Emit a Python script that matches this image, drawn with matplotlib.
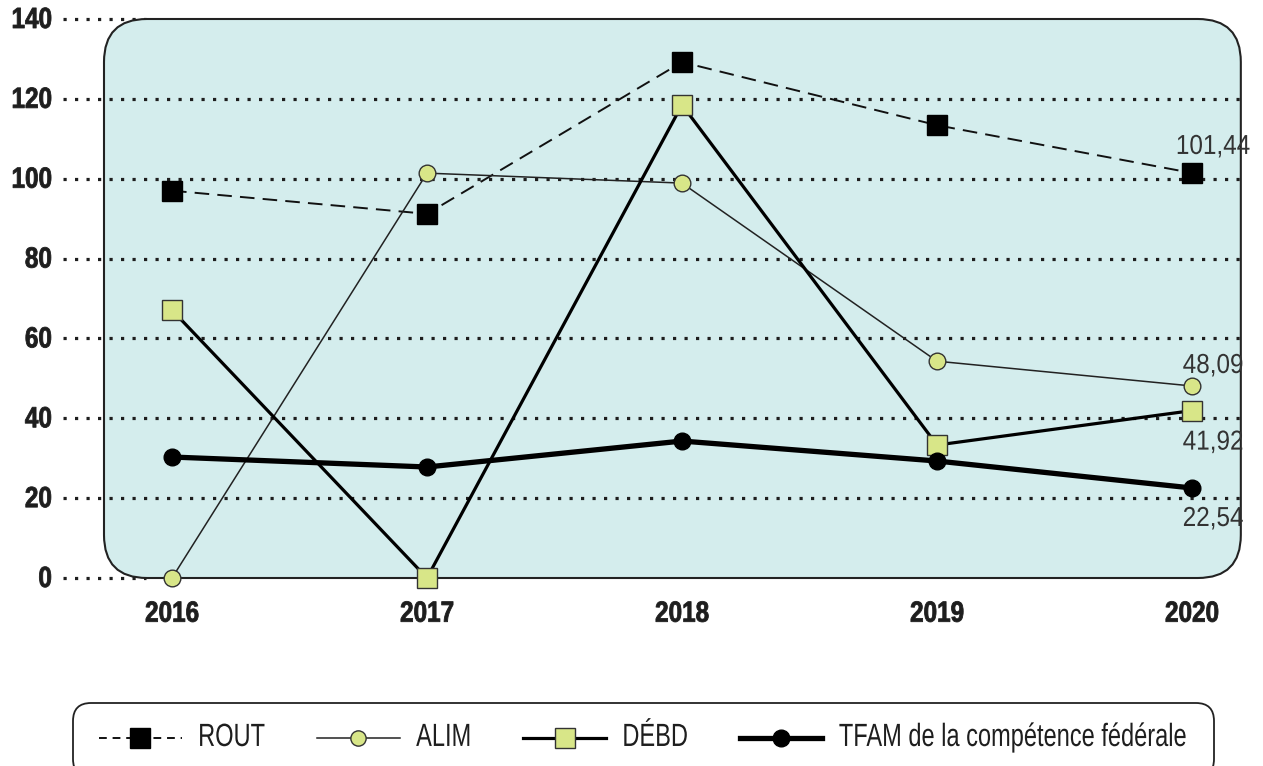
import matplotlib
matplotlib.use("Agg")
import matplotlib.pyplot as plt
from matplotlib.patches import FancyBboxPatch
from matplotlib.lines import Line2D
from matplotlib.patheffects import AbstractPathEffect
from matplotlib.transforms import Affine2D

years = ["2016", "2017", "2018", "2019", "2020"]
rout = [97.0, 91.2, 129.2, 113.4, 101.44]
alim = [0.0, 101.4, 98.9, 54.3, 48.09]
debd = [67.1, 0.0, 118.5, 33.3, 41.92]
tfam = [30.3, 27.8, 34.3, 29.3, 22.54]
yticks = [0, 20, 40, 60, 80, 100, 120, 140]
labels_end = ["101,44", "48,09", "41,92", "22,54"]
legend_names = ["ROUT", "ALIM", "DÉBD", "TFAM de la compétence fédérale"]

plt.rcParams['font.family'] = ['Liberation Sans', 'DejaVu Sans']


class Stretch(AbstractPathEffect):
    """Stretch glyphs vertically (from the baseline) to imitate a condensed face."""
    def __init__(self, sy, lw=0.0):
        super().__init__()
        self.sy = sy
        self.lw = lw

    def draw_path(self, renderer, gc, tpath, affine, rgbFace=None):
        tr = Affine2D().scale(1, self.sy) + affine
        if self.lw > 0:
            gc0 = renderer.new_gc()
            gc0.copy_properties(gc)
            gc0.set_linewidth(self.lw)
            gc0.set_foreground(rgbFace)
            renderer.draw_path(gc0, tpath, tr, rgbFace)
            gc0.restore()
        else:
            renderer.draw_path(gc, tpath, tr, rgbFace)


W, H = 1263, 766
fig = plt.figure(figsize=(W / 100, H / 100), dpi=100)
L, R, T, B = 63, 1242, 19, 578
ax = fig.add_axes([L / W, 1 - B / H, (R - L) / W, (B - T) / H])
x = list(range(len(years)))
ppu = 255.0
ax.set_xlim((L - 172) / ppu, (R - 172) / ppu)
ax.set_ylim(0, 140)
for s in ax.spines.values():
    s.set_visible(False)

green = "#d8e688"
bg = "#d4eded"
ink = "#1e1e1e"

# rounded panel
axw, axh = R - L, B - T
bx0 = (104 - L) / axw
rad = 43 / axw
box = FancyBboxPatch((bx0, 0), 1 - bx0 - 0.001, 1.0,
                     boxstyle=f"round,pad=0,rounding_size={rad}",
                     mutation_aspect=axw / axh,
                     transform=ax.transAxes, facecolor=bg, edgecolor="#222222",
                     linewidth=1.5, zorder=1, clip_on=False)
ax.add_patch(box)

for yv in yticks:
    if yv in (0, 140):
        ax.axhline(yv, xmin=0, xmax=(146 - L) / axw, color=ink, linestyle=(0, (1, 2.6)),
                   linewidth=2.3, zorder=0.5, clip_on=False)
    else:
        ax.axhline(yv, color=ink, linestyle=(0, (1, 2.6)), linewidth=2.3,
                   zorder=2, clip_on=False)

ax.plot(x, rout, color="#111111", linestyle=(0, (7.5, 4.2)), linewidth=1.4,
        marker="s", markersize=14, markerfacecolor="black", markeredgecolor="black",
        zorder=5, clip_on=False)
ax.plot(x, alim, color="#222222", linewidth=1.1,
        marker="o", markersize=12, markerfacecolor=green, markeredgecolor="#333333",
        markeredgewidth=1, zorder=6, clip_on=False)
ax.plot(x, debd, color="black", linewidth=2.3,
        marker="s", markersize=14.5, markerfacecolor=green, markeredgecolor="#333333",
        markeredgewidth=1, zorder=7, clip_on=False)
ax.plot(x, tfam, color="black", linewidth=3.8,
        marker="o", markersize=12, markerfacecolor="black", markeredgecolor="black",
        zorder=8, clip_on=False)

tick_fx = [Stretch(1.2, lw=0.6)]
ax.set_yticks(yticks)
ax.set_yticklabels([str(v) for v in yticks], fontsize=17.5, fontweight="bold", color=ink)
ax.set_xticks(x)
ax.set_xticklabels(years, fontsize=17.5, fontweight="bold", color=ink)
ax.tick_params(axis="y", length=0, pad=8)
ax.tick_params(axis="x", length=0, pad=18.5)
for t in ax.get_xticklabels() + ax.get_yticklabels():
    t.set_path_effects(tick_fx)

tc = "#333333"
lab_fx = [Stretch(1.13)]
offsets = [19, 13, -39, -38]
series_end = [rout[4], alim[4], debd[4], tfam[4]]
for txt, yv, dy in zip(labels_end, series_end, offsets):
    ax.annotate(txt, (x[4], yv), xytext=(21, dy), textcoords="offset pixels",
                ha="center", va="baseline", fontsize=17.5, color=tc,
                path_effects=lab_fx, zorder=10)

handles = [
    Line2D([], [], color="#111111", linestyle=(0, (4, 3)), linewidth=1.4, marker="s",
           markersize=14, markerfacecolor="black", markeredgecolor="black"),
    Line2D([], [], color="#222222", linewidth=1.1, marker="o", markersize=11,
           markerfacecolor=green, markeredgecolor="#333333"),
    Line2D([], [], color="black", linewidth=2.3, marker="s", markersize=15,
           markerfacecolor=green, markeredgecolor="#333333"),
    Line2D([], [], color="black", linewidth=3.8, marker="o", markersize=12,
           markerfacecolor="black", markeredgecolor="black"),
]
leg = fig.legend(handles, legend_names, loc="upper left",
                 bbox_to_anchor=(73 / W, 1 - 703 / H), borderaxespad=0,
                 ncol=4, frameon=True, fontsize=17, handlelength=3.5, columnspacing=2.2,
                 handletextpad=0.7, borderpad=1.1, fancybox=True)
fr = leg.get_frame()
fr.set_edgecolor("#222222")
fr.set_linewidth(1.3)
fr.set_facecolor("white")
fr.set_alpha(1)
fr.set_boxstyle("round,pad=0,rounding_size=0.75")
for t in leg.get_texts():
    t.set_color(ink)
    t.set_path_effects([Stretch(1.36)])

fig.savefig("out.png", dpi=100, facecolor="white")
